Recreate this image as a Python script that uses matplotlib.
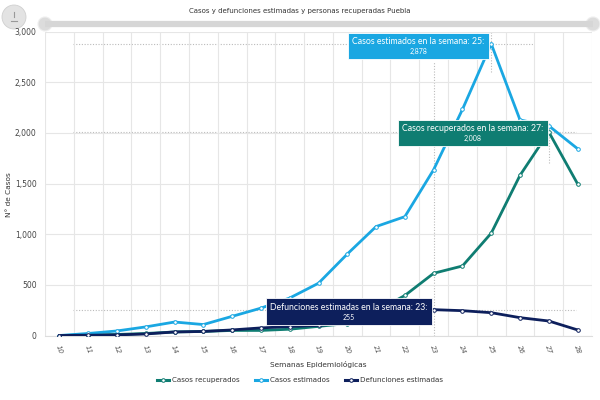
import matplotlib.pyplot as plt
from matplotlib.lines import Line2D
from matplotlib.patches import Circle
from matplotlib.offsetbox import AnnotationBbox, TextArea, VPacker
import numpy as np

# Data
semanas = [10, 11, 12, 13, 14, 15, 16, 17, 18, 19, 20, 21, 22, 23, 24, 25, 26, 27, 28]
casos_recuperados = [0, 5, 10, 20, 35, 40, 50, 50, 62, 90, 118, 240, 395, 614, 686, 1010, 1581, 2008, 1496]
casos_estimados = [0, 20, 45, 85, 133, 108, 189, 270, 370, 516, 804, 1075, 1173, 1637, 2231, 2878, 2127, 2069, 1843]
defunciones = [0, 3, 6, 15, 35, 40, 55, 75, 88, 100, 125, 165, 210, 255, 245, 225, 176, 143, 55]

c_rec = '#0f7d72'
c_est = '#1aa7e2'
c_def = '#0d1f5c'
grid_c = '#e6e6e6'

plt.rcParams['font.family'] = ['DejaVu Sans']

fig = plt.figure(figsize=(6, 4), dpi=100)
ax = fig.add_axes([45 / 600, 1 - 335.5 / 400, 547 / 600, 304 / 400])

x = np.array(semanas)
ax.set_xlim(9.5, 28.5)
ax.set_ylim(0, 3000)

# grid: horizontal at 500 steps, vertical between categories
ax.set_yticks(np.arange(0, 3001, 500))
ax.set_yticklabels(['{:,}'.format(v) for v in range(0, 3001, 500)], fontsize=5.5, color='#444')
ax.set_xticks(semanas)
ax.set_xticklabels([str(s) for s in semanas], fontsize=5, color='#555', rotation=-70,
                   ha='center', va='top', fontstyle='italic')
ax.set_xticks(np.arange(9.5, 28.6, 1), minor=True)
ax.tick_params(which='both', length=0)
ax.tick_params(axis='x', pad=6)
ax.tick_params(axis='y', pad=6)
ax.grid(True, axis='y', which='major', color=grid_c, lw=0.8)
ax.grid(True, axis='x', which='minor', color=grid_c, lw=0.8)
for s in ['top', 'right', 'left']:
    ax.spines[s].set_visible(False)
ax.spines['bottom'].set_color('#dddddd')
ax.spines['bottom'].set_linewidth(0.8)

# crosshair dotted lines of the tooltips
dot = dict(color='#bbbbbb', lw=0.8, ls=(0, (1, 1.5)), zorder=1)
ax.plot([10.47, 26.5], [2878, 2878], **dot)
ax.plot([10.47, 27.95], [2008, 2008], **dot)
ax.plot([10.47, 27.95], [255, 255], **dot)
ax.plot([23, 23], [0, 2700], **dot)
ax.plot([25, 25], [2600, 3000], **dot)
ax.plot([27, 27], [1700, 2100], **dot)

mk = dict(marker='o', markersize=2.6, markerfacecolor='white', markeredgewidth=0.7)
ax.plot(x, casos_recuperados, color=c_rec, lw=2, markeredgecolor=c_rec, zorder=3, **mk)
ax.plot(x, casos_estimados, color=c_est, lw=2, markeredgecolor=c_est, zorder=3, **mk)
ax.plot(x, defunciones, color=c_def, lw=2, markeredgecolor=c_def, zorder=4, **mk)

ax.set_xlabel('Semanas Epidemiológicas', fontsize=5.3, color='#333', labelpad=5)
fig.text(9 / 600, 1 - 195 / 400, 'N° de Casos', rotation=90, ha='center', va='center',
         fontsize=5.3, color='#333')


# tooltips
def tooltip(label, semana, valor, color, offset):
    t1 = TextArea(label, textprops=dict(color='white', fontsize=6.3, family='Lato'))
    t2 = TextArea('{:,}'.format(valor), textprops=dict(color='white', fontsize=5, family='Lato'))
    box = VPacker(children=[t1, t2], align='center', pad=0, sep=1.5)
    ab = AnnotationBbox(box, (semana, valor), xybox=offset, boxcoords='offset pixels',
                        frameon=True, pad=0.45,
                        bboxprops=dict(facecolor=color, edgecolor='white', lw=0.6,
                                       boxstyle='square'))
    ab.set_zorder(6)
    ax.add_artist(ab)


i25 = semanas.index(25)
i27 = semanas.index(27)
i23 = semanas.index(23)
tooltip('Casos estimados en la semana: 25:', 25, casos_estimados[i25], c_est, (-73, -2))
tooltip('Casos recuperados en la semana: 27:', 27, casos_recuperados[i27], c_rec, (-76, -1))
tooltip('Defunciones estimadas en la semana: 23:', 23, defunciones[i23], c_def, (-85, -2))

# legend
handles = [Line2D([], [], color=c, lw=2.2, markeredgecolor=c, **mk) for c in (c_rec, c_est, c_def)]
fig.legend(handles, ['Casos recuperados', 'Casos estimados', 'Defunciones estimadas'],
           loc='center', bbox_to_anchor=(0.5, 1 - 380 / 400), ncol=3, frameon=False,
           fontsize=5.1, handlelength=1.7, columnspacing=2.2, handletextpad=0.4,
           labelcolor='#333')

# title and decorations (slider bar, menu button)
fig.text(0.5, 1 - 11 / 400, 'Casos y defunciones estimadas y personas recuperadas Puebla',
         ha='center', va='center', fontsize=5.0, color='#333')

ov = fig.add_axes([0, 0, 1, 1], zorder=-1)
ov.set_xlim(0, 600)
ov.set_ylim(400, 0)
ov.axis('off')
ov.plot([45, 593], [24, 24], color='#d6d6d6', lw=4.5, solid_capstyle='butt')
for cx in (45, 593):
    ov.add_patch(Circle((cx, 24), 7, facecolor='#dcdcdc', edgecolor='#eeeeee', lw=0.8))
ov.add_patch(Circle((14, 17), 12, facecolor='#e3e3e3', edgecolor='#d0d0d0', lw=0.6))
ov.plot([14, 14], [12, 17], color='#999', lw=0.8)
ov.plot([11, 17], [21, 21], color='#999', lw=0.8)

fig.savefig('out.png', dpi=100)
